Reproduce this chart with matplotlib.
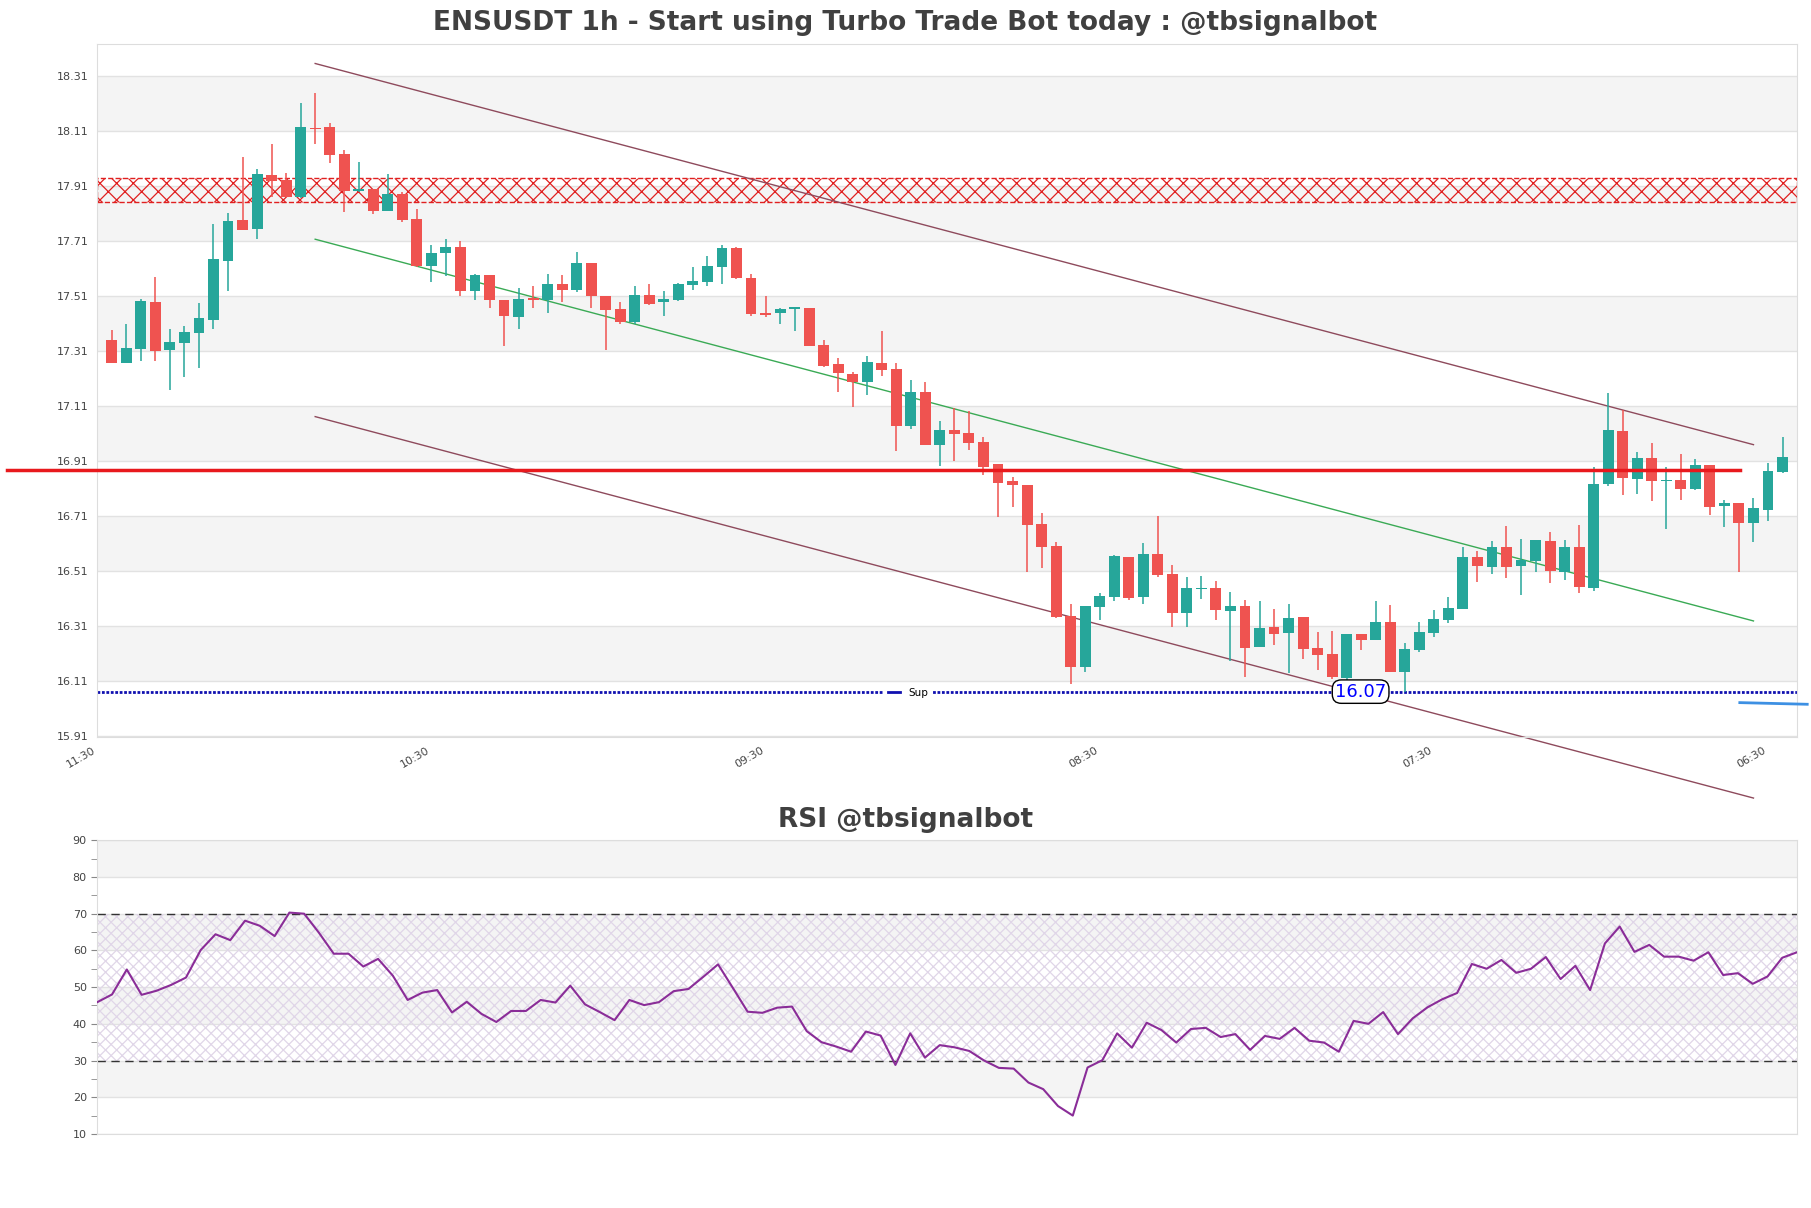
import numpy as np
import matplotlib
matplotlib.use("Agg")
import matplotlib.pyplot as plt

# candle data (1h)
opens = [17.349, 17.266, 17.316, 17.487, 17.312, 17.339, 17.375, 17.423, 17.637, 17.785,
         17.754, 17.949, 17.931, 17.870, 18.121, 18.123, 18.025, 17.892, 17.898, 17.819,
         17.880, 17.790, 17.619, 17.664, 17.685, 17.526, 17.585, 17.495, 17.431, 17.502,
         17.493, 17.554, 17.532, 17.630, 17.510, 17.463, 17.413, 17.514, 17.486, 17.493,
         17.550, 17.561, 17.615, 17.683, 17.574, 17.446, 17.445, 17.460, 17.465, 17.331,
         17.261, 17.225, 17.196, 17.264, 17.243, 17.037, 17.160, 16.968, 17.022, 17.009,
         16.977, 16.897, 16.835, 16.820, 16.678, 16.598, 16.344, 16.160, 16.378, 16.414,
         16.560, 16.413, 16.569, 16.497, 16.355, 16.443, 16.445, 16.363, 16.380, 16.231,
         16.306, 16.283, 16.340, 16.228, 16.206, 16.118, 16.278, 16.258, 16.322, 16.141,
         16.222, 16.283, 16.329, 16.371, 16.558, 16.523, 16.595, 16.527, 16.544, 16.619,
         16.506, 16.595, 16.447, 16.824, 17.017, 16.843, 16.918, 16.836, 16.838, 16.807,
         16.893, 16.745, 16.755, 16.683, 16.731, 16.868]
highs = [17.385, 17.407, 17.498, 17.578, 17.389, 17.400, 17.483, 17.771, 17.811, 18.014,
         17.971, 18.061, 17.956, 18.211, 18.247, 18.138, 18.040, 17.996, 17.898, 17.952,
         17.888, 17.825, 17.695, 17.717, 17.710, 17.589, 17.585, 17.495, 17.539, 17.546,
         17.589, 17.586, 17.670, 17.630, 17.510, 17.488, 17.546, 17.554, 17.525, 17.557,
         17.614, 17.655, 17.695, 17.687, 17.589, 17.509, 17.464, 17.468, 17.465, 17.349,
         17.282, 17.231, 17.291, 17.382, 17.265, 17.202, 17.195, 17.055, 17.100, 17.092,
         16.997, 16.897, 16.852, 16.820, 16.721, 16.615, 16.388, 16.383, 16.429, 16.566,
         16.560, 16.609, 16.708, 16.531, 16.486, 16.489, 16.474, 16.431, 16.402, 16.401,
         16.369, 16.388, 16.340, 16.286, 16.291, 16.281, 16.278, 16.398, 16.385, 16.245,
         16.322, 16.366, 16.415, 16.595, 16.583, 16.617, 16.671, 16.624, 16.623, 16.652,
         16.623, 16.676, 16.887, 17.155, 17.095, 16.940, 16.973, 16.887, 16.933, 16.915,
         16.893, 16.766, 16.755, 16.773, 16.900, 16.997]
lows = [17.266, 17.266, 17.272, 17.272, 17.167, 17.215, 17.245, 17.390, 17.525, 17.749,
        17.716, 17.870, 17.870, 17.865, 18.062, 17.994, 17.815, 17.888, 17.805, 17.819,
        17.779, 17.614, 17.558, 17.580, 17.508, 17.493, 17.464, 17.326, 17.388, 17.464,
        17.446, 17.486, 17.522, 17.464, 17.314, 17.406, 17.406, 17.475, 17.435, 17.489,
        17.531, 17.546, 17.554, 17.571, 17.437, 17.434, 17.408, 17.383, 17.328, 17.249,
        17.161, 17.106, 17.150, 17.219, 16.946, 17.025, 16.968, 16.892, 16.910, 16.949,
        16.858, 16.705, 16.742, 16.504, 16.518, 16.338, 16.098, 16.142, 16.331, 16.400,
        16.403, 16.389, 16.485, 16.305, 16.305, 16.407, 16.331, 16.182, 16.124, 16.231,
        16.240, 16.137, 16.189, 16.149, 16.116, 16.112, 16.222, 16.258, 16.141, 16.070,
        16.215, 16.269, 16.320, 16.371, 16.468, 16.497, 16.482, 16.422, 16.506, 16.465,
        16.476, 16.429, 16.436, 16.818, 16.785, 16.789, 16.763, 16.662, 16.767, 16.803,
        16.712, 16.670, 16.506, 16.614, 16.691, 16.865]
closes = [17.266, 17.320, 17.491, 17.310, 17.342, 17.378, 17.429, 17.643, 17.782, 17.749,
          17.952, 17.925, 17.870, 18.123, 18.117, 18.023, 17.892, 17.898, 17.819, 17.880,
          17.785, 17.619, 17.666, 17.685, 17.526, 17.585, 17.493, 17.435, 17.499, 17.493,
          17.554, 17.532, 17.630, 17.508, 17.457, 17.413, 17.514, 17.481, 17.499, 17.554,
          17.563, 17.618, 17.683, 17.574, 17.443, 17.440, 17.462, 17.468, 17.328, 17.255,
          17.230, 17.196, 17.269, 17.241, 17.037, 17.160, 16.968, 17.022, 17.005, 16.974,
          16.888, 16.829, 16.822, 16.676, 16.596, 16.340, 16.160, 16.380, 16.417, 16.562,
          16.409, 16.569, 16.494, 16.355, 16.448, 16.448, 16.367, 16.383, 16.229, 16.303,
          16.280, 16.337, 16.225, 16.203, 16.122, 16.278, 16.258, 16.322, 16.141, 16.224,
          16.286, 16.333, 16.373, 16.558, 16.526, 16.595, 16.523, 16.548, 16.623, 16.509,
          16.595, 16.451, 16.824, 17.020, 16.847, 16.918, 16.836, 16.840, 16.807, 16.893,
          16.742, 16.755, 16.683, 16.737, 16.871, 16.922]

rsi = [45.9, 48.0, 54.8, 47.9, 49.0, 50.6, 52.6, 60.1, 64.4, 62.8,
       68.1, 66.7, 63.9, 70.3, 70.0, 64.8, 59.1, 59.1, 55.6, 57.7,
       53.1, 46.5, 48.5, 49.2, 43.1, 46.0, 42.7, 40.5, 43.5, 43.5,
       46.5, 45.8, 50.4, 45.3, 43.2, 41.0, 46.5, 45.1, 45.9, 48.9,
       49.5, 52.8, 56.2, 49.8, 43.3, 43.0, 44.4, 44.7, 38.0, 35.0,
       33.8, 32.4, 37.9, 36.8, 28.8, 37.4, 30.8, 34.2, 33.6, 32.6,
       30.0, 28.0, 27.8, 24.0, 22.2, 17.6, 15.0, 28.1, 30.1, 37.4,
       33.5, 40.3, 38.3, 34.9, 38.6, 38.9, 36.4, 37.2, 32.9, 36.7,
       35.9, 38.9, 35.4, 34.9, 32.4, 40.8, 40.0, 43.2, 37.2, 41.5,
       44.5, 46.7, 48.4, 56.3, 55.0, 57.4, 53.9, 55.0, 58.2, 52.2,
       55.8, 49.2, 61.9, 66.5, 59.6, 61.5, 58.3, 58.3, 57.2, 59.5,
       53.3, 53.8, 50.9, 52.9, 58.0, 59.5]

tick_pos = [-1, 22, 45, 68, 91, 114]
tick_labels = ["11:30", "10:30", "09:30", "08:30", "07:30", "06:30"]
price_ticks = [15.91, 16.11, 16.31, 16.51, 16.71, 16.91, 17.11, 17.31, 17.51, 17.71, 17.91, 18.11, 18.31]

# trend channel (x index, price)
chan_x = [14, 113]
chan_upper = [18.354, 16.968]
chan_mid = [17.715, 16.327]
chan_lower = [17.070, 15.683]

resist_zone = (17.852, 17.939)
red_level = 16.876
red_x = [-7.2, 112.06]
sup_level = 16.07
blue_x = [112.06, 116.7]
blue_y = [16.030, 16.024]

up_col = "#26a69a"
dn_col = "#ef5350"
band = "#f4f4f4"
grid = "#e2e2e2"
txt = "#444444"

plt.rcParams["hatch.linewidth"] = 0.9

fig = plt.figure(figsize=(18.11, 12.08), dpi=100)
ax = fig.add_axes([0.0537, 0.3899, 0.9386, 0.5737])
ax2 = fig.add_axes([0.0537, 0.0613, 0.9386, 0.2431])

n = len(opens)
x = np.arange(n)
o = np.array(opens); h = np.array(highs); l = np.array(lows); c = np.array(closes)
up = c >= o
cols = np.where(up, up_col, dn_col)

# background bands + grid
for i in range(1, len(price_ticks) - 1, 2):
    ax.axhspan(price_ticks[i], price_ticks[i + 1], color=band, lw=0, zorder=0)
for t in price_ticks:
    ax.axhline(t, color=grid, lw=1, zorder=0.5)

# resistance zone
ax.axhspan(resist_zone[0], resist_zone[1], facecolor="none", edgecolor="#e02020",
           hatch="xx", ls="--", lw=1, zorder=1)

# candles
ax.vlines(x, l, h, colors=cols, lw=1.1, zorder=3)
body = np.maximum(np.abs(c - o), 0.004)
ax.bar(x, body, bottom=np.minimum(o, c), width=0.75, color=cols, lw=0, zorder=4)

# channel
ax.plot(chan_x, chan_upper, color="#8e4a5c", lw=1, zorder=2, clip_on=False)
ax.plot(chan_x, chan_lower, color="#8e4a5c", lw=1, zorder=2, clip_on=False)
ax.plot(chan_x, chan_mid, color="#3aaa55", lw=1, zorder=2)

ax.plot(red_x, [red_level, red_level], color="#e8191d", lw=2.5, zorder=5, clip_on=False)
ax.axhline(sup_level, color="#1010b0", ls=(0, (1, 0.6)), lw=2, zorder=2, label="Sup")
ax.plot(blue_x, blue_y, color="#3d90e3", lw=2, zorder=5, clip_on=False)

ax.text(85.96, sup_level, "16.07", color="blue", fontsize=13, ha="center", va="center", zorder=6,
        bbox=dict(boxstyle="round,pad=0.15,rounding_size=0.5", fc="white", ec="black", lw=1))

leg = ax.legend(loc="center", bbox_to_anchor=(0.477, 0.0635), fontsize=7.5, handlelength=1.2,
                frameon=True, framealpha=1, edgecolor="white", borderpad=0.4)
leg.get_frame().set_linewidth(0)
leg.get_lines()[0].set_linestyle("-")

ax.set_xlim(-1, 116)
ax.set_ylim(15.905, 18.425)
ax.set_yticks(price_ticks)
ax.set_yticklabels(["%.2f" % t for t in price_ticks])
ax.set_xticks(tick_pos)
ax.set_xticklabels(tick_labels, rotation=30, ha="right")
ax.tick_params(axis="both", length=0, labelsize=8, labelcolor=txt, pad=6)
for s in ax.spines.values():
    s.set_color("#dddddd")

# RSI panel
for lo in [20, 40, 60, 80]:
    ax2.axhspan(lo, lo + 10, color=band, lw=0, zorder=0)
for t in range(10, 91, 10):
    ax2.axhline(t, color=grid, lw=1, zorder=0.5)
ax2.axhspan(30, 70, facecolor="none", edgecolor="#e0d6e8", hatch="xxx", lw=0, zorder=1)
ax2.axhline(30, color="#333333", ls=(0, (6, 4)), lw=1, zorder=2)
ax2.axhline(70, color="#333333", ls=(0, (6, 4)), lw=1, zorder=2)
ax2.plot(np.arange(len(rsi)), rsi, color="#8a2d98", lw=1.5, zorder=3)
ax2.set_xlim(0, len(rsi) - 1)
ax2.set_ylim(10, 90)
ax2.set_yticks(range(10, 91, 10))
ax2.set_yticks(range(15, 90, 10), minor=True)
ax2.set_xticks([])
ax2.tick_params(axis="y", which="both", length=4, color="#888888", labelsize=8, labelcolor=txt)
for s in ax2.spines.values():
    s.set_color("#dddddd")

fig.text(0.5, 0.981, "ENSUSDT 1h - Start using Turbo Trade Bot today : @tbsignalbot",
         ha="center", va="center", fontsize=19, fontweight="bold", color="#404040")
fig.text(0.5, 0.321, "RSI @tbsignalbot", ha="center", va="center", fontsize=19,
         fontweight="bold", color="#404040")

fig.savefig("out.png", dpi=100, facecolor="white")
